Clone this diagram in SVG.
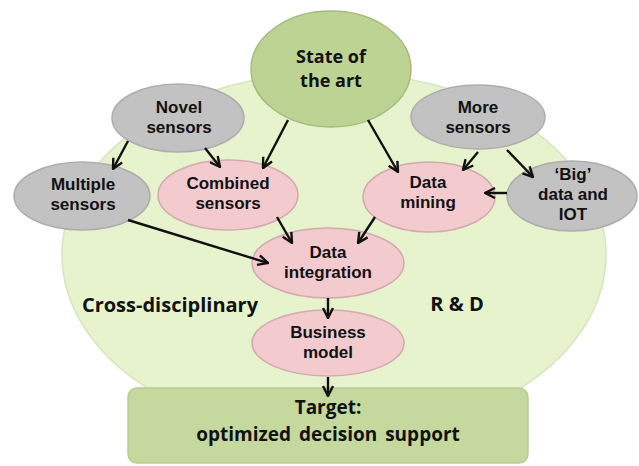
<svg xmlns="http://www.w3.org/2000/svg" width="639" height="466" viewBox="0 0 639 466">
<defs>
<marker id="ah" viewBox="0 0 12 12" refX="11" refY="6" markerWidth="12" markerHeight="12" markerUnits="userSpaceOnUse" orient="auto">
<path d="M1,1 L11,6 L1,11" fill="none" stroke="#111" stroke-width="2.4" stroke-linejoin="miter"/>
</marker>
</defs>
<style>
text{font-family:"Open Sans","Liberation Sans",sans-serif;font-weight:bold;fill:#111;text-anchor:middle}
.n{font-family:"Liberation Sans","Open Sans",sans-serif;font-size:17px}
.gray{fill:#c2c2c2;stroke:#adadad;stroke-width:1.5}
.pink{fill:#f3cbcf;stroke:#d3aaae;stroke-width:1.5}
.green{fill:#bdd394;stroke:#a4bb7c;stroke-width:1.5}
.c line{stroke:#111;stroke-width:2.4;marker-end:url(#ah)}
</style>
<g id="background">
<ellipse cx="334" cy="255" rx="272" ry="183" fill="#e7f3cd" stroke="#d6e4bf" stroke-width="1.5"/>
<text x="170" y="312" style="font-size:20px">Cross-disciplinary</text>
<text x="457" y="311" style="font-size:20px">R &amp; D</text>
</g>
<g id="target">
<rect x="128" y="388" width="400" height="75" rx="9" fill="#c5d89e" stroke="#b9cd92" stroke-width="1.5"/>
<text x="328" y="414" style="font-size:19px" word-spacing="3"><tspan x="328">Target:</tspan><tspan x="328" dy="27">optimized decision support</tspan></text>
</g>
<g id="state">
<ellipse class="green" cx="331" cy="69" rx="80" ry="58"/>
<text x="331" y="63" style="font-size:18px"><tspan x="331">State of</tspan><tspan x="331" dy="24">the art</tspan></text>
</g>
<g id="novel">
<ellipse class="gray" cx="178" cy="118" rx="66" ry="34"/>
<text class="n" x="179" y="113"><tspan x="179">Novel</tspan><tspan x="179" dy="20">sensors</tspan></text>
</g>
<g id="more">
<ellipse class="gray" cx="478" cy="117" rx="67" ry="32"/>
<text class="n" x="478" y="113"><tspan x="478">More</tspan><tspan x="478" dy="20">sensors</tspan></text>
</g>
<g id="multiple">
<ellipse class="gray" cx="82" cy="196" rx="68" ry="34"/>
<text class="n" x="83" y="190"><tspan x="83">Multiple</tspan><tspan x="83" dy="20">sensors</tspan></text>
</g>
<g id="combined">
<ellipse class="pink" cx="228" cy="195" rx="70" ry="35"/>
<text class="n" x="228" y="189"><tspan x="228">Combined</tspan><tspan x="228" dy="20">sensors</tspan></text>
</g>
<g id="mining">
<ellipse class="pink" cx="429" cy="197" rx="66" ry="35"/>
<text class="n" x="428" y="188"><tspan x="428">Data</tspan><tspan x="428" dy="20">mining</tspan></text>
</g>
<g id="bigdata">
<ellipse class="gray" cx="572" cy="196" rx="65" ry="35"/>
<text class="n" x="573" y="180"><tspan x="573">‘Big’</tspan><tspan x="573" dy="20">data and</tspan><tspan x="573" dy="20">IOT</tspan></text>
</g>
<g id="integration">
<ellipse class="pink" cx="328" cy="263" rx="76" ry="35"/>
<text class="n" x="328" y="258"><tspan x="328">Data</tspan><tspan x="328" dy="20">integration</tspan></text>
</g>
<g id="business">
<ellipse class="pink" cx="328" cy="343" rx="76" ry="33"/>
<text class="n" x="328" y="338"><tspan x="328">Business</tspan><tspan x="328" dy="20">model</tspan></text>
</g>
<g id="connectors" class="c">
<line x1="128" y1="141" x2="113" y2="169"/>
<line x1="205" y1="148" x2="220" y2="167"/>
<line x1="288" y1="120" x2="263" y2="168"/>
<line x1="368" y1="120" x2="398" y2="172"/>
<line x1="478" y1="152" x2="463" y2="170"/>
<line x1="507" y1="150" x2="533" y2="177"/>
<line x1="507" y1="193" x2="485" y2="193"/>
<line x1="128" y1="220" x2="268" y2="263"/>
<line x1="277" y1="217" x2="292" y2="243"/>
<line x1="375" y1="217" x2="358" y2="243"/>
<line x1="328" y1="298" x2="328" y2="318"/>
<line x1="328" y1="377" x2="328" y2="396"/>
</g>
</svg>
